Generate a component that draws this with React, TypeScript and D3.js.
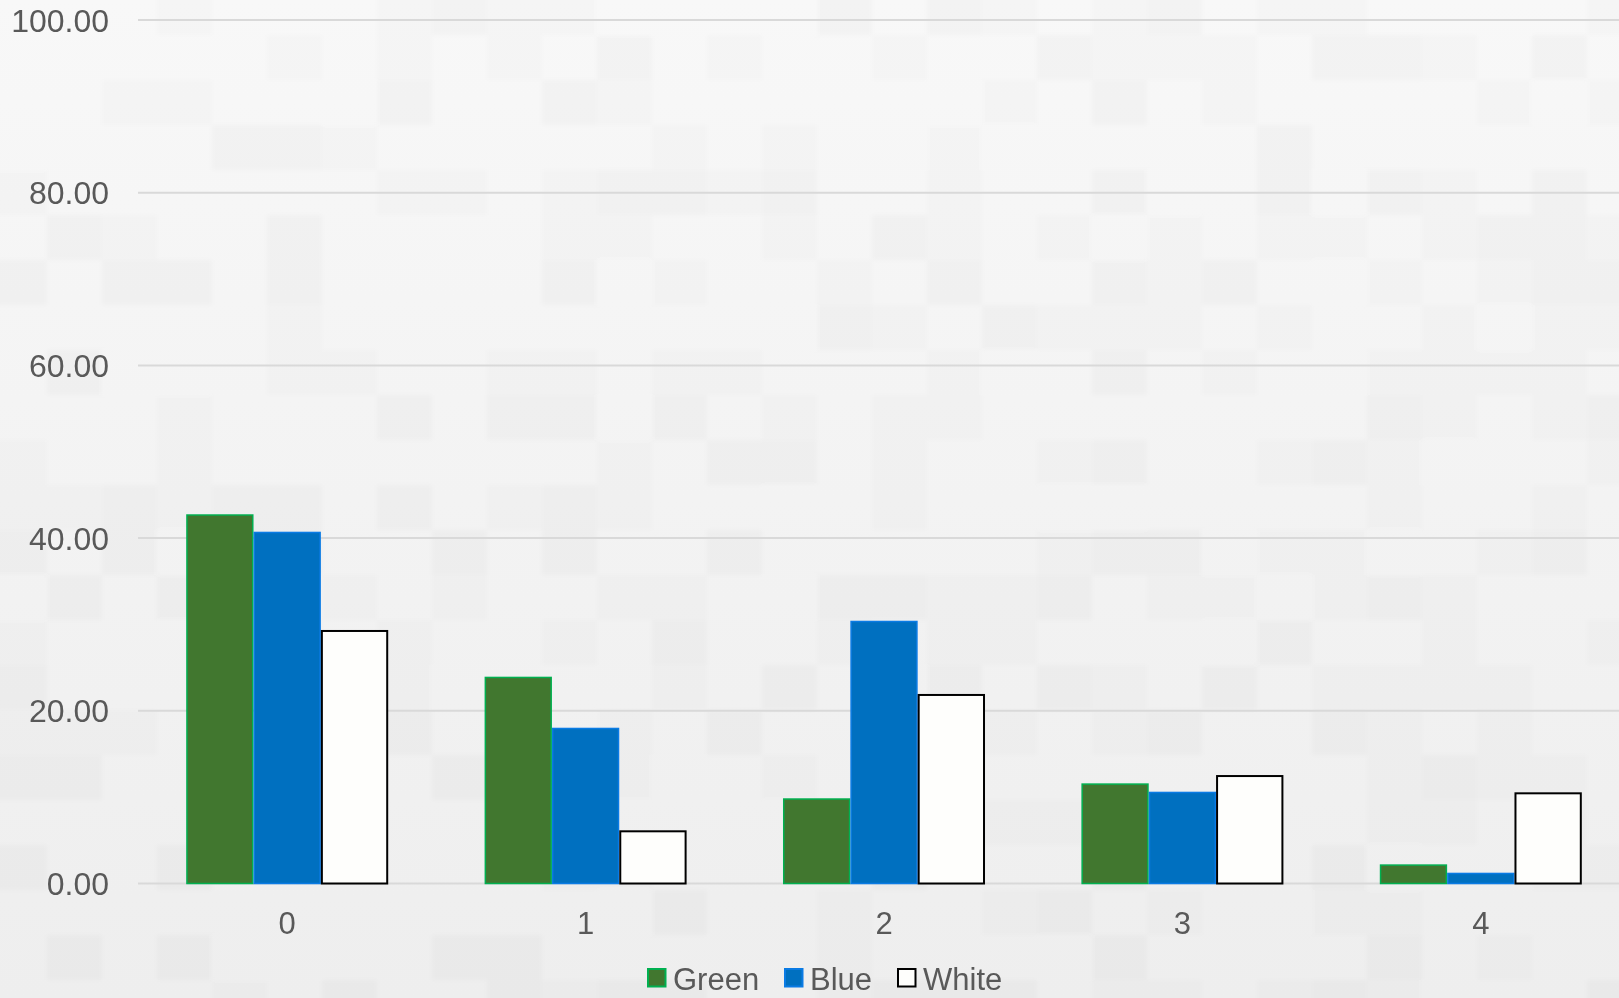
import React from "react";
import * as d3 from "d3";

const categories = ["0", "1", "2", "3", "4"];
const seriesNames = ["Green", "Blue", "White"];
const greenValues = [42.76, 23.95, 9.87, 11.6, 2.22];
const blueValues = [40.74, 18.04, 30.43, 10.63, 1.25];
const whiteValues = [29.36, 6.16, 21.95, 12.56, 10.56];
const yTicks = [0, 20, 40, 60, 80, 100];

const fills = ["#41772F", "#0070C0", "#FEFEFC"];
const strokes = ["#00B050", "#0A7BE4", "#000000"];
const strokeWidths = [1.5, 1.5, 2];

const W = 1619;
const H = 998;
const FONT = "'Liberation Sans', Arial, sans-serif";
const TEXT = "#595959";

// Background tile shades (alpha of a dark overlay), laid out as a repeating grid
const TILE_W = 55;
const TILE_H = 45;
function tileAlpha(c: number, r: number): number {
  let h = (c * 374761393 + r * 668265263) | 0;
  h = (h ^ (h >>> 13)) * 1274126177;
  h = h ^ (h >>> 16);
  const v = ((h >>> 0) % 1000) / 1000;
  if (v < 0.55) return 0;
  if (v < 0.8) return 0.01;
  if (v < 0.93) return 0.02;
  return -0.018;
}

export default function App() {
  const values = [greenValues, blueValues, whiteValues];

  const x = d3
    .scaleBand<string>()
    .domain(categories)
    .range([138, 1630])
    .paddingInner(0.323)
    .paddingOuter(0.1615);

  const xs = d3
    .scaleBand<string>()
    .domain(seriesNames)
    .range([0, x.bandwidth()]);

  const y = d3.scaleLinear().domain([0, 100]).range([883.5, 20]);

  const tiles: React.ReactElement[] = [];
  const cols = Math.ceil(W / TILE_W) + 1;
  const rows = Math.ceil(H / TILE_H) + 1;
  for (let c = 0; c < cols; c++) {
    for (let r = 0; r < rows; r++) {
      const a = tileAlpha(c, r);
      if (a === 0) continue;
      tiles.push(
        <rect
          key={`t${c}-${r}`}
          x={c * TILE_W - 8}
          y={r * TILE_H - 10}
          width={TILE_W}
          height={TILE_H}
          fill={a > 0 ? "#000" : "#fff"}
          opacity={Math.abs(a)}
        />
      );
    }
  }

  const legendItems = [
    { name: "Green", sx: 647, tx: 673 },
    { name: "Blue", sx: 784, tx: 810 },
    { name: "White", sx: 897, tx: 923 },
  ];

  return (
    <svg
      width={W}
      height={H}
      style={{ position: "fixed", left: 0, top: 0, display: "block" }}
      fontFamily={FONT}
    >
      <defs>
        <linearGradient id="bg" x1="0" y1="0" x2="0" y2="1">
          <stop offset="0" stopColor="#F8F8F8" />
          <stop offset="1" stopColor="#EEEEEE" />
        </linearGradient>
        <filter id="soft">
          <feGaussianBlur stdDeviation="2" />
        </filter>
      </defs>
      <rect x={0} y={0} width={W} height={H} fill="url(#bg)" />
      <g filter="url(#soft)">{tiles}</g>

      {/* horizontal gridlines and y labels */}
      {yTicks.map((t) => (
        <g key={`y${t}`}>
          <line
            x1={138}
            x2={W}
            y1={y(t)}
            y2={y(t)}
            stroke="#D9D9D9"
            strokeWidth={2}
          />
          <text
            x={109}
            y={y(t) + 11.5}
            textAnchor="end"
            fontSize={32}
            fill={TEXT}
          >
            {d3.format(".2f")(t)}
          </text>
        </g>
      ))}

      {/* bars */}
      {categories.map((cat, i) => (
        <g key={`c${cat}`} transform={`translate(${x(cat)},0)`}>
          {seriesNames.map((s, j) => {
            const v = values[j][i];
            const sw = strokeWidths[j];
            return (
              <rect
                key={s}
                x={(xs(s) as number) + sw / 2}
                y={y(v) + sw / 2}
                width={xs.bandwidth() - sw}
                height={y(0) - y(v) - sw / 2}
                fill={fills[j]}
                stroke={strokes[j]}
                strokeWidth={sw}
              />
            );
          })}
        </g>
      ))}

      {/* category labels */}
      {categories.map((cat) => (
        <text
          key={`x${cat}`}
          x={(x(cat) as number) + x.bandwidth() / 2}
          y={934}
          textAnchor="middle"
          fontSize={31}
          fill={TEXT}
        >
          {cat}
        </text>
      ))}

      {/* legend */}
      {legendItems.map((it, j) => (
        <g key={`l${it.name}`}>
          <rect
            x={it.sx + 1}
            y={969}
            width={17.5}
            height={17.5}
            fill={fills[j]}
            stroke={strokes[j]}
            strokeWidth={2}
          />
          <text x={it.tx} y={990} fontSize={31} fill={TEXT}>
            {it.name}
          </text>
        </g>
      ))}
    </svg>
  );
}
